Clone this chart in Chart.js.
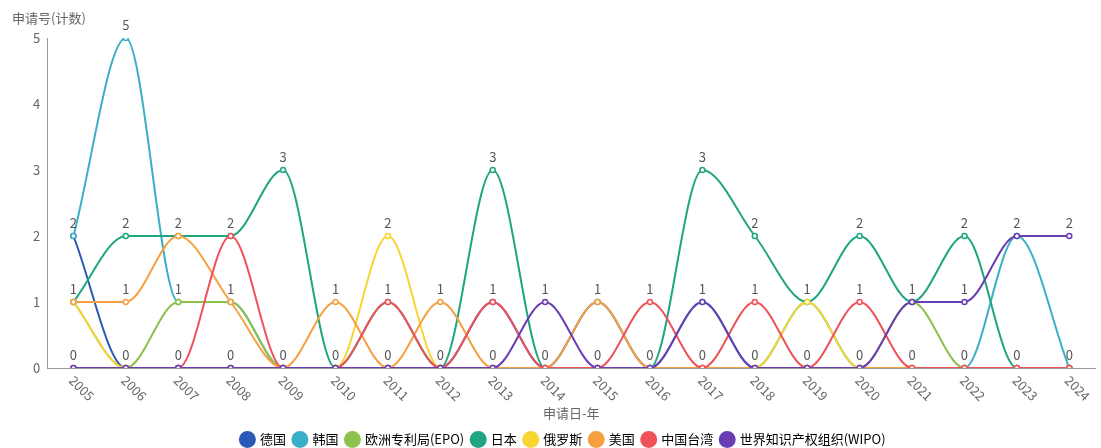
<!DOCTYPE html>
<html>
<head>
<meta charset="utf-8">
<script src="https://cdn.jsdelivr.net/npm/chart.js@4.4.1/dist/chart.umd.min.js"></script>
<style>
html,body{margin:0;padding:0;background:#fff;}
#wrap{width:1101px;height:448px;position:relative;}
</style>
</head>
<body>
<div id="wrap"><canvas id="c" width="1101" height="448"></canvas></div>
<script>
const years = ['2005','2006','2007','2008','2009','2010','2011','2012','2013','2014','2015','2016','2017','2018','2019','2020','2021','2022','2023','2024'];
const seriesNames = ['德国','韩国','欧洲专利局(EPO)','日本','俄罗斯','美国','中国台湾','世界知识产权组织(WIPO)'];
const seriesColors = ['#2a5ab5','#3aafc9','#8cc14b','#1fa57f','#f7d533','#f6a041','#f0525a','#6a3db3'];
const germany = [2,0,0,0,0,0,0,0,1,0,1,0,0,0,0,0,0,0,0,0];
const korea   = [2,5,1,1,0,0,0,0,0,0,0,0,1,0,1,0,0,0,2,0];
const epo     = [1,0,1,1,0,0,0,0,0,0,0,0,0,0,0,0,1,0,0,0];
const japan   = [1,2,2,2,3,0,1,0,3,0,0,0,3,2,1,2,1,2,0,0];
const russia  = [1,0,0,0,0,0,2,0,0,0,0,0,0,0,1,0,0,0,0,0];
const usa     = [1,1,2,1,0,1,0,1,0,0,1,0,0,0,0,0,0,0,0,0];
const taiwan  = [0,0,0,2,0,0,1,0,1,0,0,1,0,1,0,1,0,0,0,0];
const wipo    = [0,0,0,0,0,0,0,0,0,1,0,0,1,0,0,0,1,1,2,2];
const seriesData = [germany,korea,epo,japan,russia,usa,taiwan,wipo];
const yTicks = [0,1,2,3,4,5];
const yTitle = '申请号(计数)';
const xTitle = '申请日-年';

const FONT = '"Noto Sans CJK SC","Noto Sans",sans-serif';

const datasets = seriesData.map((d,i)=>({
  label: seriesNames[i],
  data: d,
  borderColor: seriesColors[i],
  backgroundColor: seriesColors[i],
  pointBackgroundColor: '#fff',
  pointBorderColor: seriesColors[i],
  pointBorderWidth: 1.5,
  pointRadius: 2.5,
  borderWidth: 2,
  cubicInterpolationMode: 'monotone',
  fill: false,
  order: -i
}));

const extras = {
  id: 'extras',
  afterLayout(chart){
    if (chart.legend) { chart.legend.top += 8; chart.legend.bottom += 8; }
  },
  afterDatasetsDraw(chart){
    const ctx = chart.ctx;
    const xs = chart.scales.x, ys = chart.scales.y;
    ctx.save();
    ctx.font = '13px ' + FONT;
    ctx.fillStyle = '#555';
    ctx.textAlign = 'center';
    ctx.textBaseline = 'bottom';
    const seen = new Set();
    chart.data.datasets.forEach((ds,di)=>{
      ds.data.forEach((v,i)=>{
        const key = i + ':' + v;
        if (seen.has(key)) return;
        seen.add(key);
        ctx.fillText(String(v), xs.getPixelForValue(i), ys.getPixelForValue(v) - 6);
      });
    });
    // x tick labels rotated clockwise
    ctx.font = '13px ' + FONT;
    ctx.fillStyle = '#666';
    ctx.textAlign = 'left';
    ctx.textBaseline = 'middle';
    chart.data.labels.forEach((lab,i)=>{
      const x = xs.getPixelForValue(i);
      ctx.save();
      ctx.translate(x - 2, xs.top + 10);
      ctx.rotate(Math.PI/4);
      ctx.fillText(lab, 0, 0);
      ctx.restore();
    });
    // x title
    ctx.textAlign = 'center';
    ctx.fillText(xTitle, (chart.chartArea.left + chart.chartArea.right) / 2, 413);
    // y title
    ctx.textAlign = 'left';
    ctx.fillText(yTitle, 12, 18);
    ctx.restore();
  }
};

new Chart(document.getElementById('c'), {
  type: 'line',
  data: { labels: years, datasets },
  plugins: [extras],
  options: {
    responsive: false,
    animation: false,
    layout: { padding: { top: 38, right: 0, left: 26, bottom: 0 } },
    plugins: {
      tooltip: { enabled: false },
      legend: {
        position: 'bottom',
        labels: {
          usePointStyle: true,
          pointStyle: 'circle',
          boxWidth: 12,
          boxHeight: 12,
          padding: 8,
          color: '#555',
          font: { size: 13, family: FONT },
          generateLabels: (chart)=>chart.data.datasets.map((ds,i)=>({
            text: ds.label, fillStyle: ds.borderColor, strokeStyle: ds.borderColor,
            lineWidth: 0, pointStyle: 'circle', datasetIndex: i, hidden: false
          }))
        }
      }
    },
    scales: {
      x: {
        offset: true,
        grid: { display: false, drawTicks: false },
        border: { display: true, color: '#999', width: 1 },
        ticks: { display: false },
        afterFit: (s)=>{ s.height = 49; }
      },
      y: {
        min: 0, max: 5,
        afterBuildTicks: (s)=>{ s.ticks = yTicks.map(v=>({value:v})); },
        grid: { display: false, drawTicks: false },
        border: { display: true, color: '#999', width: 1 },
        ticks: { color: '#666', font: { size: 13, family: FONT }, padding: 7 }
      }
    }
  }
});
</script>
</body>
</html>
